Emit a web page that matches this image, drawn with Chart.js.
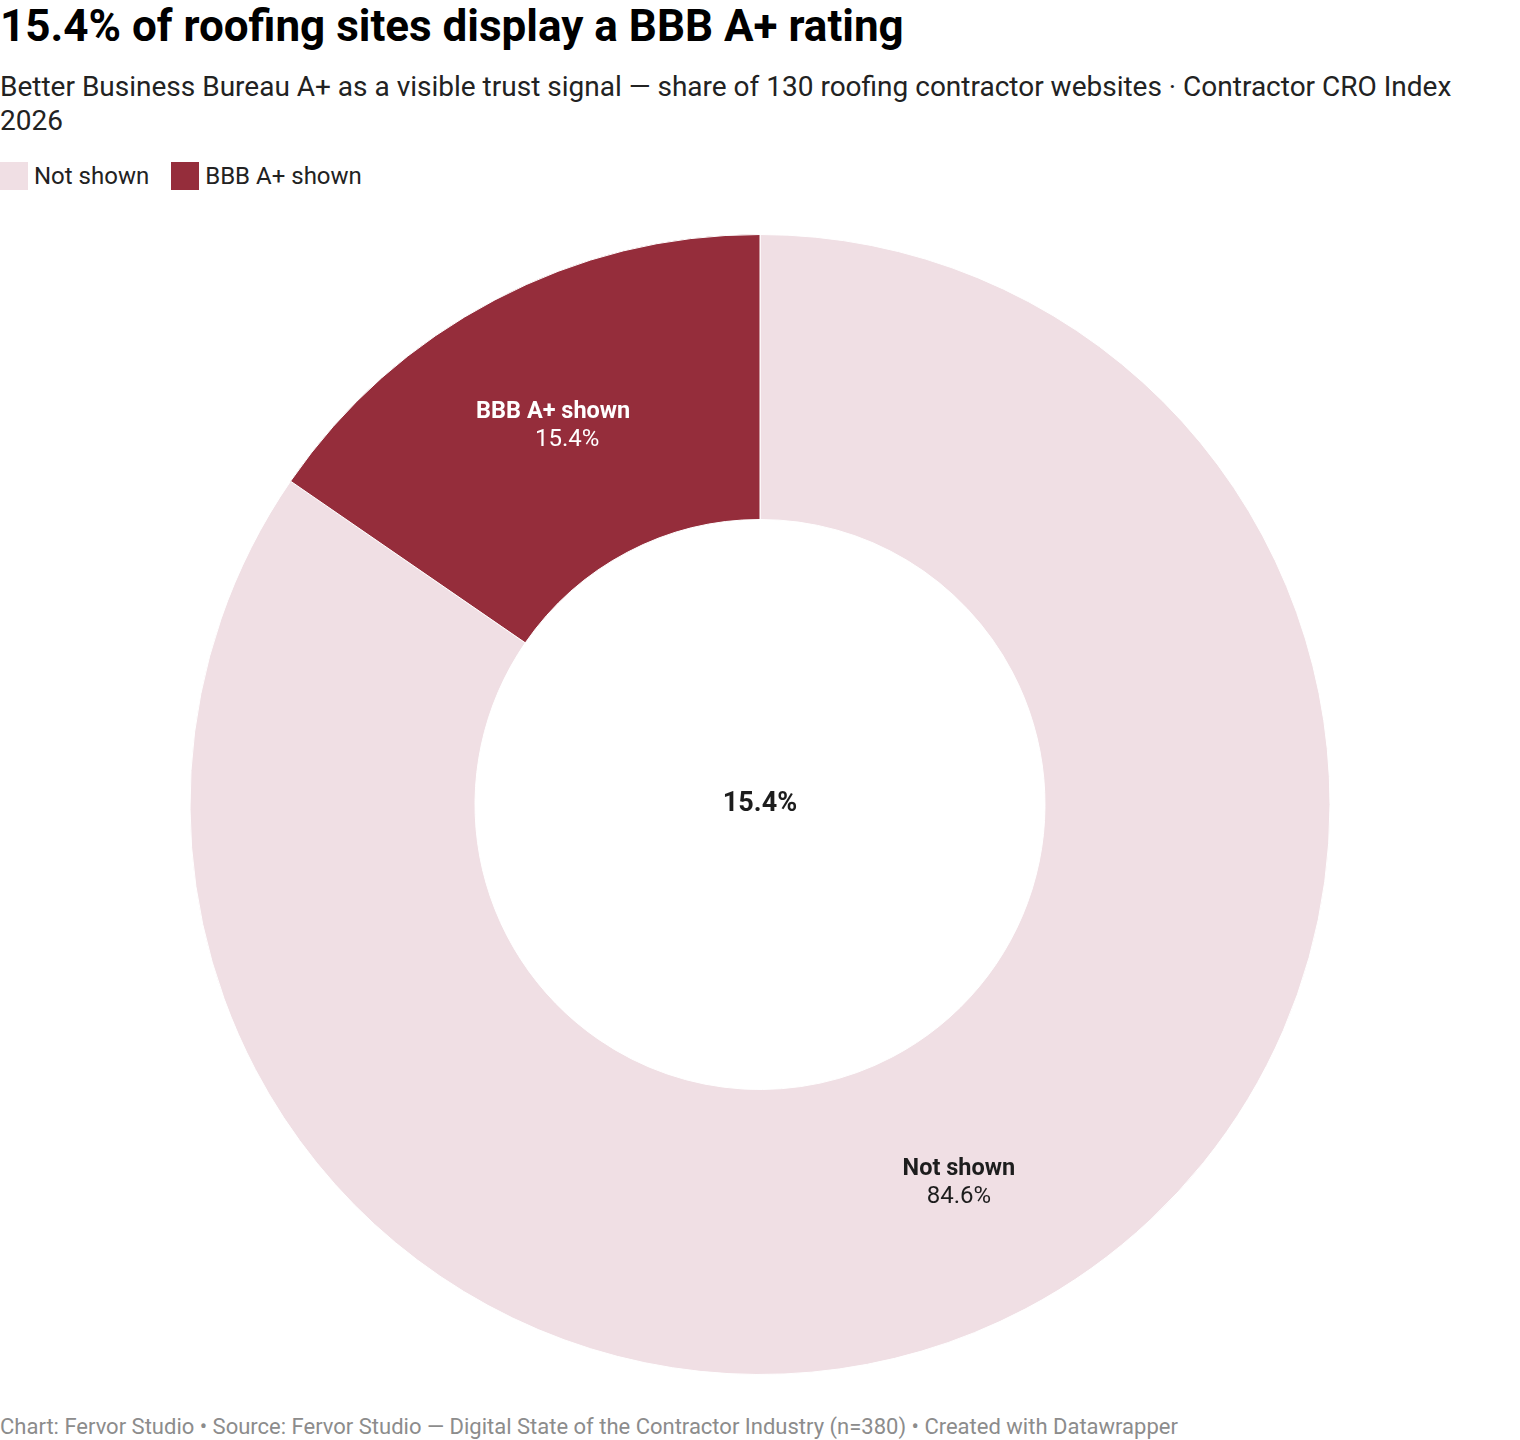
<!DOCTYPE html>
<html>
<head>
<meta charset="utf-8">
<script src="https://cdn.jsdelivr.net/npm/chart.js@4.4.1/dist/chart.umd.min.js"></script>
<style>
  html, body { margin: 0; padding: 0; background: #fff; }
  body { width: 1520px; height: 1440px; position: relative; font-family: Roboto, "Noto Sans", sans-serif; color: #1d1d1d; overflow: hidden; }
  #title { position: absolute; left: 0; top: 0px; font-size: 44px; font-weight: 700; line-height: 52px; color: #000; }
  #subtitle { position: absolute; left: 0; top: 70px; width: 1480px; font-size: 28px; line-height: 34px; color: #222; }
  #legend { position: absolute; left: 0; top: 162px; display: flex; font-size: 24px; line-height: 28px; color: #222; }
  .item { display: flex; align-items: center; margin-right: 22px; }
  .swatch { width: 28px; height: 28px; margin-right: 6px; }
  #wrap { position: absolute; left: 0; top: 234px; width: 1520px; height: 1141px; }
  #footer { position: absolute; left: 0; top: 1413px; font-size: 22px; line-height: 28px; color: #8c8c8c; }
</style>
</head>
<body>
<div id="title">15.4% of roofing sites display a BBB A+ rating</div>
<div id="subtitle">Better Business Bureau A+ as a visible trust signal — share of 130 roofing contractor websites · Contractor CRO Index 2026</div>
<div id="legend"></div>
<div id="wrap"><canvas id="donut"></canvas></div>
<div id="footer">Chart: Fervor Studio • Source: Fervor Studio — Digital State of the Contractor Industry (n=380) • Created with Datawrapper</div>
<script>
const categories = ['Not shown', 'BBB A+ shown'];
const shares = [84.6, 15.4];
const sliceColors = ['#f0dfe4', '#952d3b'];
const labelColors = ['#1d1d1d', '#ffffff'];
const centerLabel = '15.4%';

// legend built from the same arrays
const legend = document.getElementById('legend');
categories.forEach((name, i) => {
    const item = document.createElement('div');
    item.className = 'item';
    item.innerHTML = '<span class="swatch" style="background:' + sliceColors[i] + '"></span>' + name;
    legend.appendChild(item);
});

// small nudges so the label in the narrow slice sits like the original
const nameNudge = [0, -8];
const valueNudge = [0, 6];

const sliceLabels = {
    id: 'sliceLabels',
    afterDatasetsDraw(chart) {
        const ctx = chart.ctx;
        const meta = chart.getDatasetMeta(0);
        ctx.save();
        ctx.textAlign = 'center';
        ctx.textBaseline = 'middle';
        meta.data.forEach((arc, i) => {
            const p = arc.tooltipPosition();
            ctx.fillStyle = labelColors[i];
            ctx.font = '700 23.5px Roboto';
            ctx.fillText(categories[i], p.x + nameNudge[i], p.y - 14);
            ctx.font = '400 24px Roboto';
            ctx.fillText(shares[i].toFixed(1) + '%', p.x + valueNudge[i], p.y + 14);
        });
        const a = meta.data[0];
        ctx.fillStyle = '#1d1d1d';
        ctx.font = '700 27px Roboto';
        ctx.fillText(centerLabel, a.x, a.y);
        ctx.restore();
    }
};

new Chart(document.getElementById('donut'), {
    type: 'doughnut',
    data: {
        labels: categories,
        datasets: [{
            data: shares,
            backgroundColor: sliceColors,
            borderColor: '#ffffff',
            borderWidth: 1
        }]
    },
    options: {
        responsive: true,
        maintainAspectRatio: false,
        animation: false,
        cutout: '50%',
        layout: { padding: 0 },
        plugins: {
            legend: { display: false },
            tooltip: { enabled: false }
        }
    },
    plugins: [sliceLabels]
});
</script>
</body>
</html>
